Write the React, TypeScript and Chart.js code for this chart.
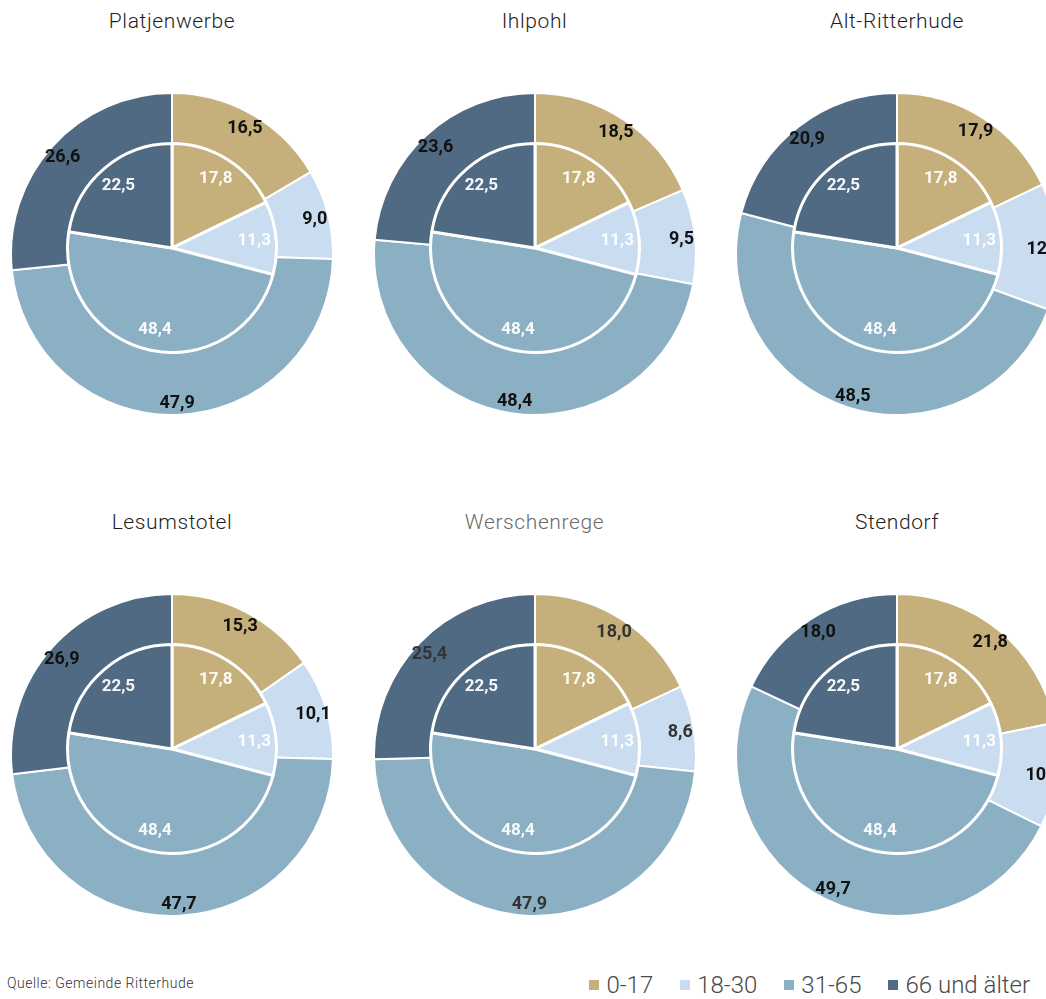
import React, { useEffect, useRef } from "react";
import { Chart, ArcElement, PieController } from "chart.js";

Chart.register(ArcElement, PieController);

// Altersgruppen und Farben
const ageGroups = ["0-17", "18-30", "31-65", "66 und älter"];
const groupColors = ["#C5B07B", "#C9DCF0", "#8CB0C3", "#506A83"];

// Gemeinde Ritterhude gesamt (innerer Kreis), Anteile in %
const communityShares = [17.8, 11.3, 48.4, 22.5];

// Ortsteile (äußerer Ring), Anteile in %
const districtNames = [
  "Platjenwerbe",
  "Ihlpohl",
  "Alt-Ritterhude",
  "Lesumstotel",
  "Werschenrege",
  "Stendorf",
];
const platjenwerbe = [16.5, 9.0, 47.9, 26.6];
const ihlpohl = [18.5, 9.5, 48.4, 23.6];
const altRitterhude = [17.9, 12.7, 48.5, 20.9];
const lesumstotel = [15.3, 10.1, 47.7, 26.9];
const werschenrege = [18.0, 8.6, 47.9, 25.4];
const stendorf = [21.8, 10.5, 49.7, 18.0];
const districtShares = [platjenwerbe, ihlpohl, altRitterhude, lesumstotel, werschenrege, stendorf];

const sourceNote = "Quelle: Gemeinde Ritterhude";

const fmt = (v: number) => v.toFixed(1).replace(".", ",");

// Draws each slice's value at a fraction of the slice radius along its mid angle
const sliceLabels = {
  id: "sliceLabels",
  afterDatasetsDraw(chart: any, _args: any, opts: any) {
    const { ctx } = chart;
    const meta = chart.getDatasetMeta(0);
    const values = chart.data.datasets[0].data as number[];
    ctx.save();
    ctx.font = opts.font;
    ctx.fillStyle = opts.color;
    ctx.textAlign = "center";
    ctx.textBaseline = "middle";
    meta.data.forEach((arc: any, i: number) => {
      const { x, y, startAngle, endAngle, outerRadius } = arc.getProps(
        ["x", "y", "startAngle", "endAngle", "outerRadius"],
        true
      );
      const mid = (startAngle + endAngle) / 2;
      const r = outerRadius * opts.radius;
      ctx.fillText(fmt(values[i]), x + Math.cos(mid) * r, y + Math.sin(mid) * r + opts.dy);
    });
    ctx.restore();
  },
};

type PieProps = {
  values: number[];
  radius: number;
  border: number;
  cx: number;
  cy: number;
  labelFont: string;
  labelColor: string;
  labelRadius: number;
  labelDy: number;
};

function PieCanvas({ values, radius, border, cx, cy, labelFont, labelColor, labelRadius, labelDy }: PieProps) {
  const ref = useRef<HTMLCanvasElement | null>(null);
  const size = radius * 2 + border;

  useEffect(() => {
    if (!ref.current) return;
    const chart = new Chart(ref.current, {
      type: "pie",
      data: {
        labels: ageGroups,
        datasets: [
          {
            data: values,
            backgroundColor: groupColors,
            borderColor: "#ffffff",
            borderWidth: border,
          },
        ],
      },
      options: {
        responsive: false,
        animation: false,
        events: [],
        layout: { padding: 0 },
        plugins: {
          legend: { display: false },
          tooltip: { enabled: false },
          sliceLabels: { font: labelFont, color: labelColor, radius: labelRadius, dy: labelDy },
        } as any,
      },
      plugins: [sliceLabels],
    });
    return () => chart.destroy();
  }, [values, border, labelFont, labelColor, labelRadius, labelDy]);

  return (
    <canvas
      ref={ref}
      width={size}
      height={size}
      style={{ position: "absolute", left: cx - size / 2, top: cy - size / 2, width: size, height: size }}
    />
  );
}

const textFont = "Roboto, 'DejaVu Sans', sans-serif";

function DistrictPanel({ name, values, index }: { name: string; values: number[]; index: number }) {
  const col = index % 3;
  const row = Math.floor(index / 3);
  const cx = 172 + col * 362.5;
  const cy = 254 + row * 501;
  const dim = name === "Werschenrege";
  return (
    <>
      <div
        style={{
          position: "absolute",
          left: cx - 150,
          width: 300,
          top: cy - 245,
          textAlign: "center",
          fontFamily: textFont,
          fontWeight: 300,
          fontSize: 21,
          lineHeight: "24px",
          letterSpacing: 0.6,
          color: dim ? "#6a6a6a" : "#1e1e1e",
        }}
      >
        {name}
      </div>
      <PieCanvas
        values={values}
        radius={161}
        border={2}
        cx={cx}
        cy={cy}
        labelFont="bold 18px Roboto, 'DejaVu Sans Condensed', sans-serif"
        labelColor={dim ? "#333333" : "#111111"}
        labelRadius={0.915}
        labelDy={2}
      />
      <PieCanvas
        values={communityShares}
        radius={104.5}
        border={3}
        cx={cx}
        cy={cy - 6}
        labelFont="bold 17px Roboto, 'DejaVu Sans Condensed', sans-serif"
        labelColor="rgba(255,255,255,0.95)"
        labelRadius={0.79}
        labelDy={1}
      />
    </>
  );
}

export default function App() {
  return (
    <div
      style={{
        position: "absolute",
        left: 0,
        top: 0,
        width: 1046,
        height: 999,
        overflow: "hidden",
        background: "#ffffff",
      }}
    >
      {districtNames.map((name, i) => (
        <DistrictPanel key={name} name={name} values={districtShares[i]} index={i} />
      ))}

      <div
        style={{
          position: "absolute",
          left: 7,
          top: 975,
          fontFamily: textFont,
          fontWeight: 300,
          fontSize: 14,
          lineHeight: "16px",
          letterSpacing: 0.5,
          color: "#333333",
        }}
      >
        {sourceNote}
      </div>

      <div
        style={{
          position: "absolute",
          right: 16,
          top: 970,
          display: "flex",
          alignItems: "center",
          fontFamily: textFont,
          fontWeight: 300,
          fontSize: 24,
          lineHeight: "30px",
          color: "#4a4a4a",
        }}
      >
        {ageGroups.map((g, i) => (
          <div key={g} style={{ display: "flex", alignItems: "center", marginLeft: i === 0 ? 0 : 27 }}>
            <span
              style={{
                display: "inline-block",
                width: 10,
                height: 10,
                background: groupColors[i],
                marginRight: 7,
              }}
            />
            <span>{g}</span>
          </div>
        ))}
      </div>
    </div>
  );
}
